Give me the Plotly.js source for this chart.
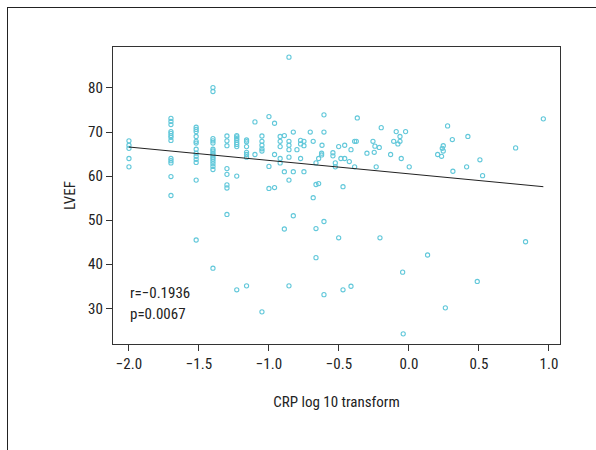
<!DOCTYPE html>
<html>
<head>
<meta charset="utf-8">
<script src="https://cdn.plot.ly/plotly-3.0.1.min.js"></script>
<style>
html,body{margin:0;padding:0;background:#fff;}
#wrap{position:relative;width:596px;height:450px;overflow:hidden;}
#frame{position:absolute;left:7px;top:7px;width:620px;height:480px;border-left:1.5px solid #222;border-top:1.5px solid #222;pointer-events:none;z-index:5;}
#chart{position:absolute;left:0;top:0;width:596px;height:450px;}
</style>
</head>
<body>
<div id="wrap"><div id="chart"></div><div id="frame"></div></div>
<script>
// CRP log10 transform (x) and LVEF (y)
const crpLog = [
  -2.0,-2.0,-2.0,-2.0,-2.0,
  -1.70,-1.70,-1.70,-1.70,-1.70,-1.70,-1.70,-1.70,-1.70,-1.70,-1.70,-1.70,-1.70,
  -1.52,-1.52,-1.52,-1.52,-1.52,-1.52,-1.52,-1.52,-1.52,-1.52,-1.52,-1.52,-1.52,
  -1.40,-1.40,-1.40,-1.40,-1.40,-1.40,-1.40,-1.40,-1.40,-1.40,-1.40,-1.40,-1.40,-1.40,-1.40,-1.40,
  -1.30,-1.30,-1.30,-1.30,-1.30,-1.30,-1.30,-1.30,
  -1.23,-1.23,-1.23,-1.23,-1.23,-1.23,-1.23,-1.23,-1.23,
  -1.16,-1.16,-1.16,-1.16,-1.16,-1.16,-1.16,
  -1.10,-1.10,
  -1.05,-1.05,-1.05,-1.05,-1.05,-1.05,
  -1.00,-1.00,-1.00,
  -0.96,-0.96,-0.96,
  -0.92,-0.92,-0.92,-0.92,-0.92,
  -0.89,-0.89,-0.89,
  -0.857,-0.857,-0.857,-0.857,-0.857,-0.857,-0.857,
  -0.826,-0.826,-0.826,
  -0.80,
  -0.774,-0.774,-0.774,
  -0.75,-0.75,-0.75,
  -0.705,
  -0.684,-0.684,
  -0.664,-0.664,-0.664,-0.664,
  -0.645,-0.645,
  -0.624,-0.624,
  -0.621,
  -0.607,-0.607,-0.607,-0.607,
  -0.543,-0.543,
  -0.526,-0.526,
  -0.502,-0.502,
  -0.486,
  -0.471,-0.471,
  -0.459,-0.459,
  -0.426,
  -0.414,-0.414,
  -0.388,-0.388,
  -0.376,-0.369,-0.30,-0.257,-0.248,-0.243,-0.234,-0.212,-0.207,-0.198,
  -0.131,-0.109,-0.091,-0.079,-0.064,-0.064,-0.055,-0.045,-0.041,-0.024,0.002,
  0.133,0.205,0.233,0.238,0.245,0.245,0.26,0.276,0.31,0.314,0.412,0.421,
  0.488,0.507,0.526,0.762,0.833,0.96
];
const lvef = [
  68.0,67.0,66.3,64.0,62.1,
  73.1,72.4,71.7,70.1,69.7,69.2,68.8,68.1,64.0,63.5,63.0,59.9,55.6,
  71.1,70.6,70.1,69.0,67.9,67.5,66.1,65.2,64.5,63.8,63.1,59.1,45.5,
  80.1,79.2,68.5,68.0,67.5,66.1,65.7,65.2,64.8,64.3,63.9,63.4,62.8,62.2,61.5,39.1,
  69.1,68.0,66.9,61.7,60.4,58.0,57.3,51.3,
  69.2,68.9,68.5,68.1,67.6,67.2,66.7,60.0,34.2,
  68.2,67.8,66.7,65.4,64.9,64.3,35.1,
  72.3,64.9,
  69.1,67.9,67.0,66.2,65.7,29.2,
  73.5,62.2,57.2,
  72.0,64.9,57.4,
  69.0,67.9,66.7,64.0,63.0,
  69.2,61.0,48.0,
  87.0,67.9,67.0,66.0,64.3,59.1,35.1,
  70.0,61.0,51.0,
  66.0,
  68.1,67.3,64.0,
  67.9,66.9,61.0,
  70.0,
  67.9,55.1,
  63.0,58.1,48.1,41.5,
  64.0,58.3,
  65.2,64.8,
  67.0,
  73.9,70.0,49.7,33.1,
  65.3,64.6,
  63.0,62.1,
  66.7,46.0,
  64.0,
  57.6,34.2,
  67.0,64.0,
  63.3,
  66.0,35.0,
  67.9,62.1,
  67.9,73.2,65.2,67.9,65.4,66.8,62.1,66.5,46.0,71.0,
  64.9,67.9,70.1,67.3,69.0,67.9,64.0,38.2,24.2,70.1,62.1,
  42.1,64.9,64.5,66.3,66.9,65.7,30.1,71.4,68.3,61.1,62.1,69.0,
  36.1,63.7,60.1,66.4,45.1,73.0
];
// Regression line end points
const fitX = [-2.0, 0.96];
const fitY = [66.6, 57.6];
const statText = ['r=\u22120.1936', 'p=0.0067'];
const xTicks = [-2.0, -1.5, -1.0, -0.5, 0.0, 0.5, 1.0];
const yTicks = [30, 40, 50, 60, 70, 80];

const font = '"Liberation Sans Narrow", "Arial Narrow", "Roboto Condensed", Roboto, sans-serif';

const traces = [
  {x: crpLog, y: lvef, type: 'scatter', mode: 'markers',
   marker: {symbol: 'circle-open', size: 4.2, color: '#62c8da', line: {width: 1.1, color: '#62c8da'}},
   hoverinfo: 'skip', cliponaxis: false},
  {x: fitX, y: fitY, type: 'scatter', mode: 'lines',
   line: {color: '#222', width: 1}, hoverinfo: 'skip'}
];

const axisBase = {
  showgrid: false, zeroline: false, showline: true, mirror: true,
  linecolor: '#333', linewidth: 1.2, ticks: 'outside', ticklen: 6,
  tickcolor: '#333', tickwidth: 1, tickfont: {family: font, size: 15, color: '#222'}
};

const layout = {
  width: 596, height: 450,
  margin: {l: 113, r: 36, t: 47, b: 106},
  paper_bgcolor: 'rgba(0,0,0,0)', plot_bgcolor: '#fff',
  showlegend: false,
  xaxis: Object.assign({}, axisBase, {
    range: [-2.114, 1.079], tickvals: xTicks, tickformat: '.1f',
    title: {text: 'CRP log 10 transform', font: {family: font, size: 15, color: '#222'}, standoff: 24}
  }),
  yaxis: Object.assign({}, axisBase, {
    range: [21.9, 89.3], tickvals: yTicks,
    title: {text: 'LVEF', font: {family: font, size: 15, color: '#222'}, standoff: 8}
  }),
  annotations: [
    {xref: 'x', yref: 'y', x: -2.01, y: 33.5, text: statText[0], showarrow: false,
     xanchor: 'left', yanchor: 'middle', font: {family: font, size: 15, color: '#222'}},
    {xref: 'x', yref: 'y', x: -2.01, y: 28.8, text: statText[1], showarrow: false,
     xanchor: 'left', yanchor: 'middle', font: {family: font, size: 15, color: '#222'}}
  ]
};

Plotly.newPlot('chart', traces, layout, {displayModeBar: false, staticPlot: true});
</script>
</body>
</html>
